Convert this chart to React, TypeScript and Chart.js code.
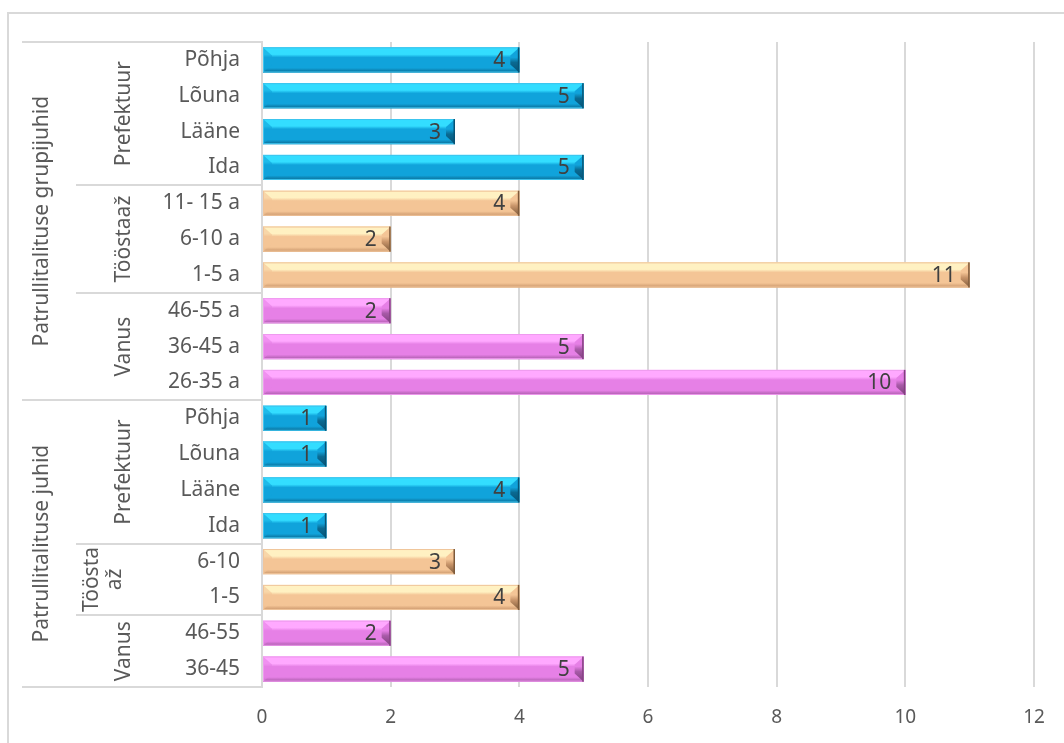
import React, { useEffect, useRef } from "react";
import { Chart, registerables } from "chart.js";

Chart.register(...registerables);

// ---------- DATA ----------
const categories = [
  "Põhja", "Lõuna", "Lääne", "Ida",
  "11- 15 a", "6-10 a", "1-5 a",
  "46-55 a", "36-45 a", "26-35 a",
  "Põhja", "Lõuna", "Lääne", "Ida",
  "6-10", "1-5",
  "46-55", "36-45",
];
const values = [4, 5, 3, 5, 4, 2, 11, 2, 5, 10, 1, 1, 4, 1, 3, 4, 2, 5];
const barKinds = [
  "blue", "blue", "blue", "blue",
  "peach", "peach", "peach",
  "pink", "pink", "pink",
  "blue", "blue", "blue", "blue",
  "peach", "peach",
  "pink", "pink",
];
const subGroupLabels = [["Prefektuur"], ["Tööstaaž"], ["Vanus"], ["Prefektuur"], ["Töösta", "až"], ["Vanus"]];
const subGroupStart = [0, 4, 7, 10, 14, 16];
const subGroupEnd = [3, 6, 9, 13, 15, 17];
const mainGroupLabels = ["Patrullitalituse grupijuhid", "Patrullitalituse juhid"];
const mainGroupStart = [0, 10];
const mainGroupEnd = [9, 17];
const xMin = 0;
const xMax = 12;
const xStep = 2;

// ---------- STYLE ----------
const palette: Record<string, { light: string; main: string; dark: string; edge: string; line: string }> = {
  blue: { light: "#33DDFF", main: "#10A3DB", dark: "#0A6A92", edge: "#075274", line: "#3EC4EE" },
  peach: { light: "#FFF1C2", main: "#F4C596", dark: "#C9956A", edge: "#7E5A3A", line: "#F0C49A" },
  pink: { light: "#FFA9FF", main: "#E680E6", dark: "#A85AA8", edge: "#80407E", line: "#EE9AEE" },
};
const FONT = "'Noto Sans', sans-serif";
const TEXT = "#595959";
const LINE = "#D9D9D9";

const bevelPlugin = {
  id: "bevelBars",
  afterDatasetsDraw(chart: any) {
    const ctx: CanvasRenderingContext2D = chart.ctx;
    const meta = chart.getDatasetMeta(0);
    meta.data.forEach((el: any, i: number) => {
      const { x, y, base, height } = el.getProps(["x", "y", "base", "height"], true);
      const top = y - height / 2;
      const bottom = y + height / 2;
      const left = Math.min(x, base);
      const right = Math.max(x, base);
      const p = palette[barKinds[i]];
      const bx = Math.min(9, (right - left) / 2);
      const by = height * 0.32;
      ctx.save();
      // face
      const g = ctx.createLinearGradient(0, top, 0, bottom);
      g.addColorStop(0, p.light);
      g.addColorStop(0.28, p.light);
      g.addColorStop(0.4, p.main);
      g.addColorStop(0.82, p.main);
      g.addColorStop(1, p.dark);
      ctx.fillStyle = g;
      ctx.fillRect(left, top, right - left, height);
      // left bevel
      ctx.beginPath();
      ctx.moveTo(left, top);
      ctx.lineTo(left + bx, top + by);
      ctx.lineTo(left + bx, bottom - by);
      ctx.lineTo(left, bottom);
      ctx.closePath();
      ctx.fillStyle = p.main;
      ctx.globalAlpha = 0.6;
      ctx.fill();
      ctx.globalAlpha = 1;
      // right bevel
      const g2 = ctx.createLinearGradient(0, top, 0, bottom);
      g2.addColorStop(0, p.main);
      g2.addColorStop(0.4, p.main);
      g2.addColorStop(0.6, p.dark);
      g2.addColorStop(1, p.edge);
      ctx.beginPath();
      ctx.moveTo(right, top);
      ctx.lineTo(right, bottom);
      ctx.lineTo(right - bx, bottom - by);
      ctx.lineTo(right - bx, top + by);
      ctx.closePath();
      ctx.fillStyle = g2;
      ctx.fill();
      // outline
      ctx.strokeStyle = p.line;
      ctx.lineWidth = 1;
      ctx.strokeRect(left + 0.5, top + 0.5, right - left - 1, height - 1);
      ctx.fillStyle = p.edge;
      ctx.fillRect(right - 1.5, top, 1.5, height);
      // value label
      ctx.fillStyle = "#404040";
      ctx.font = `21px ${FONT}`;
      ctx.textAlign = "right";
      ctx.textBaseline = "middle";
      ctx.fillText(String(values[i]), right - 14, y + 1);
      ctx.restore();
    });
  },
};

const tablePlugin = {
  id: "multiLevelAxis",
  beforeDraw(chart: any) {
    const ctx: CanvasRenderingContext2D = chart.ctx;
    ctx.save();
    ctx.strokeStyle = LINE;
    ctx.lineWidth = 2;
    ctx.strokeRect(8, 13, 1100, 800);
    ctx.restore();
  },
  afterDraw(chart: any) {
    const ctx: CanvasRenderingContext2D = chart.ctx;
    const ys = chart.scales.y;
    const area = chart.chartArea;
    const half = (ys.getPixelForValue(1) - ys.getPixelForValue(0)) / 2;
    const topOf = (i: number) => ys.getPixelForValue(i) - half;
    const botOf = (i: number) => ys.getPixelForValue(i) + half;
    ctx.save();
    ctx.strokeStyle = LINE;
    ctx.lineWidth = 2;
    // main group lines
    mainGroupStart.forEach((s, k) => {
      const yT = Math.round(topOf(s));
      ctx.beginPath();
      ctx.moveTo(22, yT);
      ctx.lineTo(area.left, yT);
      ctx.stroke();
      if (k === mainGroupStart.length - 1) {
        const yB = Math.round(botOf(mainGroupEnd[k]));
        ctx.beginPath();
        ctx.moveTo(22, yB);
        ctx.lineTo(area.left, yB);
        ctx.stroke();
      }
    });
    // sub group lines
    subGroupStart.forEach((s) => {
      if (mainGroupStart.includes(s)) return;
      const yT = Math.round(topOf(s));
      ctx.beginPath();
      ctx.moveTo(76, yT);
      ctx.lineTo(area.left, yT);
      ctx.stroke();
    });
    // labels
    ctx.fillStyle = TEXT;
    ctx.font = `21px ${FONT}`;
    ctx.textAlign = "center";
    ctx.textBaseline = "middle";
    subGroupLabels.forEach((lines, k) => {
      const yc = (topOf(subGroupStart[k]) + botOf(subGroupEnd[k])) / 2;
      const lh = 23;
      const xc = lines.length > 1 ? 104 : 124;
      lines.forEach((txt, j) => {
        const xo = xc + (j - (lines.length - 1) / 2) * lh;
        ctx.save();
        ctx.translate(xo, yc);
        ctx.rotate(-Math.PI / 2);
        ctx.fillText(txt, 0, 0);
        ctx.restore();
      });
    });
    mainGroupLabels.forEach((txt, k) => {
      const yc = (topOf(mainGroupStart[k]) + botOf(mainGroupEnd[k])) / 2;
      ctx.save();
      ctx.translate(42, yc);
      ctx.rotate(-Math.PI / 2);
      ctx.fillText(txt, 0, 0);
      ctx.restore();
    });
    ctx.restore();
  },
};

export default function App() {
  const ref = useRef<HTMLCanvasElement | null>(null);
  useEffect(() => {
    if (!ref.current) return;
    const chart = new Chart(ref.current, {
      type: "bar",
      data: {
        labels: categories,
        datasets: [
          {
            data: values,
            backgroundColor: barKinds.map((k) => palette[k].main),
            borderWidth: 0,
            barPercentage: 0.7,
            categoryPercentage: 1,
          },
        ],
      },
      options: {
        indexAxis: "y",
        responsive: false,
        animation: false,
        events: [],
        layout: { padding: { top: 42, right: 30, left: 0, bottom: 0 } },
        plugins: { legend: { display: false }, tooltip: { enabled: false } },
        scales: {
          x: {
            min: xMin,
            max: xMax,
            ticks: { stepSize: xStep, color: TEXT, font: { family: FONT, size: 19 }, padding: 19 },
            grid: { color: LINE, lineWidth: 2, drawTicks: false },
            border: { display: false },
            afterFit: (s: any) => { s.height = 56; },
          },
          y: {
            ticks: { color: TEXT, font: { family: FONT, size: 21 }, padding: 22, autoSkip: false },
            grid: { display: false, drawTicks: false },
            border: { display: true, color: LINE, width: 2 },
            afterFit: (s: any) => { s.width = 262; },
          },
        },
      },
      plugins: [tablePlugin, bevelPlugin],
    });
    return () => chart.destroy();
  }, []);
  return (
    <div style={{ position: "absolute", left: 0, top: 0, width: 1064, height: 743, background: "#fff" }}>
      <canvas ref={ref} width={1064} height={743} style={{ display: "block" }} />
    </div>
  );
}
